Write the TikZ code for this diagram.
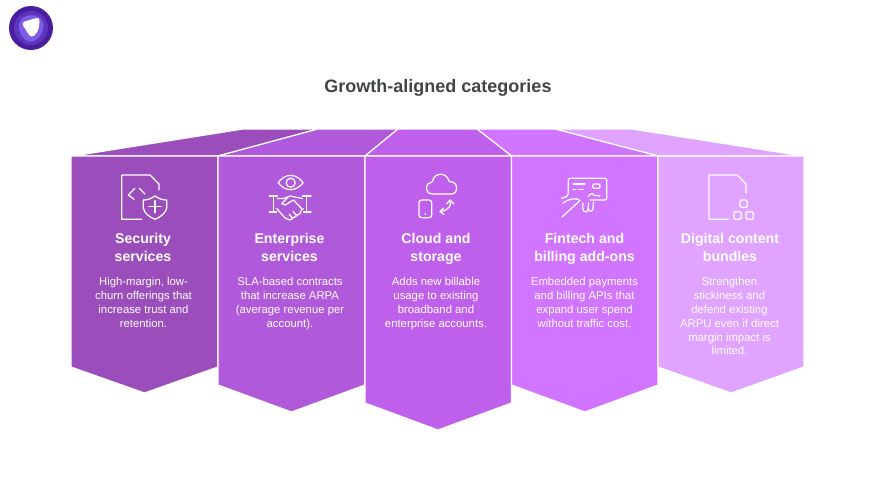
\documentclass[tikz,border=0pt]{standalone}
\usepackage{fontspec}
\setmainfont{Liberation Sans}
\definecolor{security}{HTML}{9A4DBB}
\definecolor{enterprise}{HTML}{B059DB}
\definecolor{cloud}{HTML}{BF60EC}
\definecolor{fintech}{HTML}{D174FF}
\definecolor{content}{HTML}{E0A3FF}
\definecolor{titlegray}{HTML}{404545}
\begin{document}
\begin{tikzpicture}[x=.75pt,y=-.75pt,
    panel/.style={draw=white,line width=.9pt,line join=miter},
    icon/.style={draw=white,line width=.95pt,line cap=round,line join=round},
    heading/.style={anchor=north,align=center,text=white,inner sep=0pt,font=\fontsize{10.6}{13.9}\selectfont\bfseries},
    body/.style={anchor=north,align=center,text=white,inner sep=0pt,font=\fontsize{8.5}{10.35}\selectfont}]
    \useasboundingbox (0,0) rectangle (876,493);
    % logo
    \fill[fill={rgb,255:red,74;green,29;blue,158}] (31,28) circle (22);
    \fill[fill={rgb,255:red,92;green,52;blue,190}] (31,28) circle (17);
    \fill[fill={rgb,255:red,126;green,92;blue,230},rounded corners=5] (18,21) -- (30,13.5) -- (44,19) -- (43,34) -- (31,44) -- (20,36) -- cycle;
    \fill[white,rounded corners=3] (21,22.5) -- (40,17) -- (38.5,31) -- (31.5,38.5) -- cycle;
    % title
    \node[text=titlegray,inner sep=0pt,font=\fontsize{13.5}{16}\selectfont\bfseries] (title) at (438,88) {Growth-aligned categories};
    % top faces
    \filldraw[panel,fill=security] (73,156) -- (243,129) -- (318,129) -- (218,156) -- cycle;
    \filldraw[panel,fill=content] (803,156) -- (632,129) -- (555,129) -- (658,156) -- cycle;
    \filldraw[panel,fill=enterprise] (218,156) -- (318,129) -- (398,129) -- (365,156) -- cycle;
    \filldraw[panel,fill=fintech] (658,156) -- (555,129) -- (477,129) -- (511.5,156) -- cycle;
    \filldraw[panel,fill=cloud] (365,156) -- (398,129) -- (477,129) -- (511.5,156) -- cycle;
    % front faces
    \filldraw[panel,fill=security] (71,156) -- (218,156) -- (218,367) -- (144.5,393) -- (71,367) -- cycle;
    \filldraw[panel,fill=enterprise] (218,156) -- (365,156) -- (365,385) -- (291.5,412) -- (218,385) -- cycle;
    \filldraw[panel,fill=cloud] (365,156) -- (511.5,156) -- (511.5,403) -- (438,430) -- (365,403) -- cycle;
    \filldraw[panel,fill=fintech] (511.5,156) -- (658,156) -- (658,385) -- (585,412) -- (511.5,385) -- cycle;
    \filldraw[panel,fill=content] (658,156) -- (804,156) -- (804,367) -- (731,393) -- (658,367) -- cycle;
    % security icon
    \draw[icon] (159,190) -- (159,184) -- (150,175) -- (121.7,175) -- (121.7,219.3) -- (141.7,219.3);
    \draw[icon] (135,188.3) -- (128.3,195) -- (134,199.3) (139.3,188.3) -- (145,194);
    \draw[icon] (155,196) .. controls (151,199) and (147,200) .. (143.3,200) -- (143.3,208) .. controls (144,213) and (150,217.5) .. (155,219.3) .. controls (160,217.5) and (166,213) .. (166.7,208) -- (166.7,200) .. controls (163,200) and (159,199) .. (155,196) -- cycle;
    \draw[icon] (155,200.7) -- (155,212.7) (149,206.7) -- (161,206.7);
    % enterprise icon
    \draw[icon] (278.2,182.7) .. controls (285,173) and (296,173) .. (303.2,182.7) .. controls (296,192) and (285,192) .. (278.2,182.7) -- cycle;
    \draw[icon] (290.7,182.7) circle (4.5);
    \draw[icon] (269.3,196) -- (277.3,196) (273.3,196) -- (273.3,212) (269.3,212) -- (276.7,212);
    \draw[icon] (302.5,196) -- (311,196) (306.5,196) -- (306.5,212) (303.5,212) -- (311,212);
    \draw[icon] (277.3,198.5) -- (283.5,198.5) -- (290,196) -- (302.5,198.5);
    \draw[icon] (276.7,208.5) -- (285,218) -- (290,220) -- (300,213.5) -- (302,209) -- (293.5,200) -- (285,205) -- (281.7,203.5) -- (288.5,196.7);
    \draw[icon] (302,209) -- (303.5,209) (289,214) -- (292.5,218) (293,211.5) -- (297,216);
    % cloud icon
    \draw[icon,rounded corners=1pt] (434,194) .. controls (424,194) and (425,182) .. (432.5,182.5) .. controls (434,172) and (447,172) .. (449,182) .. controls (458,181) and (459,194) .. (450,194) -- cycle;
    \draw[icon,rounded corners=2pt] (419,200) rectangle (431.7,217.7);
    \fill[white] (425.3,214) circle (1);
    \draw[icon] (450,201) .. controls (452,205) and (449,210) .. (440.5,211.5);
    \draw[icon] (446.5,204) -- (450,200) -- (454,204);
    \draw[icon] (443.5,208) -- (440,211.5) -- (444,214.5);
    % fintech icon
    \draw[icon,rounded corners=1pt] (568.3,193) -- (568.3,178.3) -- (606.7,178.3) -- (606.7,200) -- (590,200);
    \draw[icon] (573.3,184) -- (585,184) (573.3,189.3) -- (575.7,189.3) (578.3,189.3) -- (583.3,189.3);
    \draw[icon,rounded corners=1pt] (592.7,184) rectangle (600,188.3);
    \draw[icon] (588,196.5) .. controls (591,193) and (593,193) .. (594,195.5) .. controls (596,194) and (598,197) .. (600,196);
    \draw[icon] (568.3,193.3) -- (566.7,196.7) -- (561.7,198.3);
    \draw[icon] (563,203) .. controls (568,199) and (577,197) .. (580,200.5) -- (562,217);
    \draw[icon] (583,203) .. controls (582,208) and (583,212) .. (586,212) .. controls (588,212) and (588,208) .. (588.5,203);
    \draw[icon] (588.5,209) .. controls (589,212) and (592,212) .. (593,209) -- (593.5,202);
    % content icon
    \draw[icon] (746,193.3) -- (746,184) -- (737.3,175) -- (709,175) -- (709,219.3) -- (728.3,219.3);
    \draw[icon,rounded corners=1pt] (740,200) rectangle (747.3,207.3);
    \draw[icon,rounded corners=1pt] (734,211.7) rectangle (741.3,219.3);
    \draw[icon,rounded corners=1pt] (746,211.7) rectangle (753.3,219.3);
    % labels
    \node[heading] (securityhead) at (143,232.5) {Security\\services};
    \node[body] (securitytext) at (143.5,277.5) {High-margin, low-\\churn offerings that\\increase trust and\\retention.};
    \node[heading] (enterprisehead) at (289.5,232.5) {Enterprise\\services};
    \node[body] (enterprisetext) at (290,277.5) {SLA-based contracts\\that increase ARPA\\(average revenue per\\account).};
    \node[heading] (cloudhead) at (436,232.5) {Cloud and\\storage};
    \node[body] (cloudtext) at (436,277.5) {Adds new billable\\usage to existing\\broadband and\\enterprise accounts.};
    \node[heading] (fintechhead) at (584.5,232.5) {Fintech and\\billing add-ons};
    \node[body] (fintechtext) at (584.5,277.5) {Embedded payments\\and billing APIs that\\expand user spend\\without traffic cost.};
    \node[heading] (contenthead) at (730,232.5) {Digital content\\bundles};
    \node[body] (contenttext) at (729.5,277.5) {Strengthen\\stickiness and\\defend existing\\ARPU even if direct\\margin impact is\\limited.};
\end{tikzpicture}
\end{document}
